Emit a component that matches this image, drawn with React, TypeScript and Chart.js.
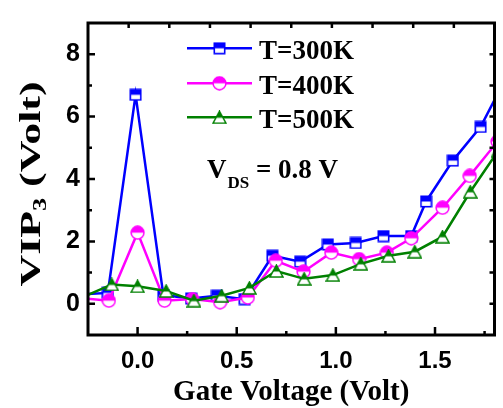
import React, { useEffect, useRef } from 'react';
import { Chart, registerables } from 'chart.js';

Chart.register(...registerables);

// ---- data ----
const seriesLabels = ['T=300K', 'T=400K', 'T=500K'];

const blueX = [-0.29, -0.15, -0.01, 0.13, 0.27, 0.40, 0.54, 0.68, 0.82, 0.96, 1.10, 1.24, 1.38, 1.455, 1.59, 1.73, 1.87];
const blueY = [0.3, 0.35, 6.7, 0.28, 0.17, 0.26, 0.15, 1.54, 1.35, 1.9, 1.95, 2.17, 2.17, 3.28, 4.59, 5.67, 7.4];

const magX = [-0.285, -0.145, 0.0, 0.136, 0.276, 0.416, 0.556, 0.697, 0.837, 0.977, 1.117, 1.257, 1.38, 1.538, 1.675, 1.815];
const magY = [0.18, 0.1, 2.28, 0.1, 0.15, 0.05, 0.2, 1.38, 1.03, 1.64, 1.43, 1.64, 2.1, 3.08, 4.1, 5.2];

const greenX = [-0.29, -0.13, 0.0, 0.144, 0.284, 0.424, 0.564, 0.70, 0.84, 0.985, 1.126, 1.266, 1.398, 1.538, 1.678, 1.818];
const greenY = [0.17, 0.62, 0.56, 0.41, 0.1, 0.26, 0.51, 1.05, 0.8, 0.92, 1.28, 1.54, 1.67, 2.15, 3.59, 4.9];

const xTickValues = [0, 0.5, 1.0, 1.5];
const xMinorValues = [0.25, 0.75, 1.25, 1.75];
const yTickValues = [0, 2, 4, 6, 8];
const yMinorValues = [1, 3, 5, 7];
const yRightValues = [0, 1, 2, 3, 4, 5, 6, 7, 8];

const X_MIN = -0.25;
const X_MAX = 1.8;
const Y_MIN = -1;
const Y_MAX = 9;

const BLUE = '#0000ff';
const MAGENTA = '#ff00ff';
const GREEN = '#008000';

const SERIF = '"Liberation Serif", "Times New Roman", serif';
const SANS = '"Liberation Sans", Arial, sans-serif';

function makeSquare(color: string) {
  const c = document.createElement('canvas');
  c.width = 13; c.height = 13;
  const g = c.getContext('2d')!;
  g.fillStyle = '#fff';
  g.fillRect(1, 1, 11, 11);
  g.fillStyle = color;
  g.fillRect(1, 1, 11, 5.5);
  g.strokeStyle = color;
  g.lineWidth = 1.6;
  g.strokeRect(1.3, 1.3, 10.4, 10.4);
  return c;
}

function makeCircle(color: string) {
  const c = document.createElement('canvas');
  c.width = 15; c.height = 15;
  const g = c.getContext('2d')!;
  g.beginPath();
  g.arc(7.5, 7.5, 6.4, 0, Math.PI * 2);
  g.fillStyle = '#fff';
  g.fill();
  g.beginPath();
  g.arc(7.5, 7.5, 6.4, Math.PI, Math.PI * 2);
  g.closePath();
  g.fillStyle = color;
  g.fill();
  g.beginPath();
  g.arc(7.5, 7.5, 6.4, 0, Math.PI * 2);
  g.strokeStyle = color;
  g.lineWidth = 1.5;
  g.stroke();
  return c;
}

function makeTriangle(color: string) {
  const c = document.createElement('canvas');
  c.width = 15; c.height = 14;
  const g = c.getContext('2d')!;
  const path = () => {
    g.beginPath();
    g.moveTo(7.5, 1);
    g.lineTo(14, 13);
    g.lineTo(1, 13);
    g.closePath();
  };
  path();
  g.fillStyle = '#fff';
  g.fill();
  g.save();
  path();
  g.clip();
  g.fillStyle = color;
  g.fillRect(0, 0, 15, 7.5);
  g.restore();
  path();
  g.strokeStyle = color;
  g.lineWidth = 1.5;
  g.stroke();
  return c;
}

export default function App() {
  const ref = useRef<HTMLCanvasElement>(null);

  useEffect(() => {
    const canvas = ref.current!;
    const markers = [makeSquare(BLUE), makeCircle(MAGENTA), makeTriangle(GREEN)];
    const colors = [BLUE, MAGENTA, GREEN];

    const decor = {
      id: 'decor',
      afterDraw(chart: any) {
        const ctx = chart.ctx as CanvasRenderingContext2D;
        const area = chart.chartArea;
        const xs = chart.scales.x;
        const ys = chart.scales.y;
        ctx.save();
        ctx.strokeStyle = '#000';
        ctx.lineWidth = 2.5;
        ctx.beginPath();
        xTickValues.forEach((v) => {
          const px = xs.getPixelForValue(v);
          ctx.moveTo(px, area.bottom); ctx.lineTo(px, area.bottom - 8);
        });
        xMinorValues.forEach((v) => {
          const px = xs.getPixelForValue(v);
          ctx.moveTo(px, area.bottom); ctx.lineTo(px, area.bottom - 4);
        });
        yTickValues.forEach((v) => {
          const py = ys.getPixelForValue(v);
          ctx.moveTo(area.left, py); ctx.lineTo(area.left + 7, py);
        });
        yMinorValues.forEach((v) => {
          const py = ys.getPixelForValue(v);
          ctx.moveTo(area.left, py); ctx.lineTo(area.left + 4, py);
        });
        yRightValues.forEach((v) => {
          const py = ys.getPixelForValue(v);
          ctx.moveTo(area.right, py); ctx.lineTo(area.right - 5, py);
        });
        for (let k = 1; k < 10; k++) {
          const px = xs.getPixelForValue(X_MIN + (k * (X_MAX - X_MIN)) / 10);
          ctx.moveTo(px, area.top); ctx.lineTo(px, area.top + 5);
        }
        ctx.stroke();

        ctx.lineWidth = 3;
        ctx.strokeRect(area.left, area.top, area.right - area.left, area.bottom - area.top);

        // legend
        const rows = [48.3, 83.3, 117.3];
        rows.forEach((ry, i) => {
          ctx.strokeStyle = colors[i];
          ctx.lineWidth = 2.5;
          ctx.beginPath();
          ctx.moveTo(187, ry); ctx.lineTo(252, ry);
          ctx.stroke();
          const m = markers[i];
          ctx.drawImage(m, 219.5 - m.width / 2, ry - m.height / 2);
          ctx.fillStyle = '#000';
          ctx.font = `bold 27px ${SERIF}`;
          ctx.textAlign = 'left';
          ctx.textBaseline = 'alphabetic';
          ctx.fillText(seriesLabels[i], 259, ry + 11);
        });

        // V_DS annotation
        ctx.fillStyle = '#000';
        ctx.textBaseline = 'alphabetic';
        ctx.textAlign = 'left';
        ctx.font = `bold 27px ${SERIF}`;
        ctx.fillText('V', 207, 178);
        const wV = ctx.measureText('V').width;
        ctx.font = `bold 17px ${SERIF}`;
        ctx.fillText('DS', 207 + wV + 1, 188);
        const wDS = ctx.measureText('DS').width;
        ctx.font = `bold 27px ${SERIF}`;
        ctx.fillText(' = 0.8 V', 207 + wV + 1 + wDS, 178);

        // x title
        ctx.font = `bold 29px ${SERIF}`;
        ctx.textAlign = 'center';
        ctx.fillText('Gate Voltage (Volt)', (area.left + area.right) / 2, 400);

        // y title (rotated, with subscript)
        ctx.save();
        ctx.translate(40, 184);
        ctx.rotate(-Math.PI / 2);
        ctx.textAlign = 'left';
        ctx.font = `bold 30px ${SERIF}`;
        const w1 = ctx.measureText('VIP').width;
        const w3 = ctx.measureText(' (Volt)').width;
        ctx.font = `bold 18px ${SERIF}`;
        const w2 = ctx.measureText('3').width;
        const total = w1 + w2 + w3;
        const sx = 205 / total;
        ctx.scale(sx, 1);
        const start = -total / 2;
        ctx.font = `bold 30px ${SERIF}`;
        ctx.fillText('VIP', start, 0);
        ctx.font = `bold 18px ${SERIF}`;
        ctx.fillText('3', start + w1, 6);
        ctx.font = `bold 30px ${SERIF}`;
        ctx.fillText(' (Volt)', start + w1 + w2, 0);
        ctx.restore();

        ctx.restore();
      },
    };

    const mk = (xsArr: number[], ysArr: number[]) => xsArr.map((x, i) => ({ x, y: ysArr[i] }));

    const chart = new Chart(canvas, {
      type: 'line',
      data: {
        datasets: [
          {
            label: seriesLabels[0],
            data: mk(blueX, blueY),
            borderColor: BLUE,
            backgroundColor: BLUE,
            borderWidth: 2.5,
            pointStyle: markers[0] as any,
            pointRadius: 6,
            tension: 0,
            clip: 0 as any,
            order: 3,
          },
          {
            label: seriesLabels[1],
            data: mk(magX, magY),
            borderColor: MAGENTA,
            backgroundColor: MAGENTA,
            borderWidth: 2.5,
            pointStyle: markers[1] as any,
            pointRadius: 6,
            tension: 0,
            clip: 0 as any,
            order: 2,
          },
          {
            label: seriesLabels[2],
            data: mk(greenX, greenY),
            borderColor: GREEN,
            backgroundColor: GREEN,
            borderWidth: 2.5,
            pointStyle: markers[2] as any,
            pointRadius: 6,
            tension: 0,
            clip: 0 as any,
            order: 1,
          },
        ],
      },
      options: {
        animation: false,
        responsive: false,
        devicePixelRatio: 1,
        layout: { padding: { top: 10, right: 1, left: 0, bottom: 0 } },
        plugins: {
          legend: { display: false },
          tooltip: { enabled: false },
        },
        events: [],
        scales: {
          x: {
            type: 'linear',
            position: 'bottom',
            min: X_MIN,
            max: X_MAX,
            grid: { display: false, drawTicks: false },
            border: { display: false },
            afterBuildTicks: (s: any) => { s.ticks = xTickValues.map((v) => ({ value: v })); },
            afterFit: (s: any) => { s.height = 73; },
            ticks: {
              color: '#000',
              font: { family: SANS, size: 24, weight: 'bold' },
              padding: 12,
              maxRotation: 0,
              autoSkip: false,
              callback: (v: any) => Number(v).toFixed(1),
            },
          },
          y: {
            type: 'linear',
            min: Y_MIN,
            max: Y_MAX,
            grid: { display: false, drawTicks: false },
            border: { display: false },
            afterBuildTicks: (s: any) => { s.ticks = yTickValues.map((v) => ({ value: v })); },
            afterFit: (s: any) => { s.width = 88; },
            ticks: {
              color: '#000',
              font: { family: SANS, size: 25, weight: 'bold' },
              padding: 8,
              autoSkip: false,
              callback: (v: any) => String(v),
            },
          },
        },
      },
      plugins: [decor],
    });

    return () => chart.destroy();
  }, []);

  return (
    <div style={{ position: 'absolute', left: 0, top: 0, width: 503, height: 408, background: '#fff' }}>
      <canvas ref={ref} width={503} height={408} style={{ display: 'block' }} />
    </div>
  );
}
